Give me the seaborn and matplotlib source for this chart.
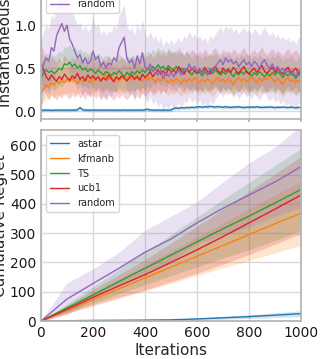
import matplotlib
matplotlib.use("Agg")
import matplotlib.pyplot as plt
import numpy as np
import pandas as pd
import seaborn as sns

ALGOS = ["astar", "kfmanb", "TS", "ucb1", "random"]
COLORS = ["#1f77b4", "#ff7f0e", "#2ca02c", "#d62728", "#9467bd"]

# instantaneous regret, one value every 10 iterations (0..1000)
INST_ITERS = list(range(0, 1001, 10))
inst_astar = [
    0.01, 0.01, 0.012, 0.01, 0.008, 0.01, 0.012, 0.01, 0.01, 0.011, 0.01,
    0.01, 0.012, 0.01, 0.015, 0.04, 0.015, 0.01, 0.012, 0.01, 0.01,
    0.012, 0.01, 0.01, 0.011, 0.01, 0.012, 0.01, 0.01, 0.011, 0.01,
    0.01, 0.012, 0.01, 0.01, 0.011, 0.01, 0.012, 0.01, 0.01, 0.015,
    0.02, 0.012, 0.01, 0.01, 0.012, 0.01, 0.01, 0.011, 0.01, 0.012,
    0.03, 0.035, 0.032, 0.04, 0.036, 0.042, 0.038, 0.045, 0.04, 0.048,
    0.05, 0.044, 0.052, 0.047, 0.055, 0.05, 0.045, 0.052, 0.048, 0.044,
    0.05, 0.046, 0.042, 0.048, 0.045, 0.05, 0.044, 0.04, 0.046, 0.043,
    0.048, 0.044, 0.05, 0.045, 0.041, 0.046, 0.043, 0.048, 0.044, 0.04,
    0.045, 0.042, 0.047, 0.043, 0.04, 0.045, 0.042, 0.038, 0.043, 0.04,
]
inst_kfmanb = [
    0.22, 0.26, 0.30, 0.28, 0.33, 0.30, 0.35, 0.32, 0.36, 0.33, 0.37,
    0.34, 0.38, 0.35, 0.32, 0.37, 0.34, 0.39, 0.36, 0.33, 0.38,
    0.35, 0.40, 0.36, 0.38, 0.42, 0.37, 0.40, 0.36, 0.39, 0.35,
    0.38, 0.41, 0.37, 0.40, 0.36, 0.39, 0.42, 0.38, 0.35, 0.39,
    0.36, 0.40, 0.37, 0.34, 0.38, 0.35, 0.39, 0.36, 0.33, 0.37,
    0.34, 0.38, 0.35, 0.32, 0.37, 0.34, 0.38, 0.35, 0.39, 0.36,
    0.33, 0.37, 0.34, 0.38, 0.35, 0.32, 0.36, 0.39, 0.35, 0.37,
    0.34, 0.38, 0.35, 0.31, 0.36, 0.39, 0.35, 0.38, 0.34, 0.37,
    0.40, 0.36, 0.33, 0.38, 0.35, 0.39, 0.36, 0.42, 0.37, 0.34,
    0.38, 0.35, 0.31, 0.36, 0.39, 0.34, 0.37, 0.33, 0.36, 0.35,
]
inst_ts = [
    0.38, 0.44, 0.48, 0.45, 0.47, 0.44, 0.46, 0.50, 0.48, 0.55, 0.54,
    0.57, 0.52, 0.55, 0.50, 0.53, 0.48, 0.50, 0.46, 0.49, 0.47,
    0.44, 0.48, 0.45, 0.42, 0.46, 0.44, 0.41, 0.45, 0.43, 0.47,
    0.44, 0.40, 0.45, 0.42, 0.46, 0.43, 0.47, 0.44, 0.48, 0.45,
    0.50, 0.47, 0.52, 0.49, 0.54, 0.50, 0.52, 0.48, 0.53, 0.50,
    0.48, 0.52, 0.47, 0.50, 0.45, 0.49, 0.46, 0.42, 0.47, 0.44,
    0.45, 0.41, 0.46, 0.43, 0.47, 0.44, 0.48, 0.45, 0.42, 0.46,
    0.43, 0.47, 0.44, 0.40, 0.45, 0.42, 0.46, 0.43, 0.47, 0.44,
    0.41, 0.45, 0.42, 0.46, 0.43, 0.40, 0.44, 0.41, 0.45, 0.42,
    0.46, 0.43, 0.39, 0.44, 0.41, 0.45, 0.42, 0.38, 0.43, 0.41,
]
inst_ucb1 = [
    0.55, 0.48, 0.40, 0.36, 0.42, 0.38, 0.35, 0.40, 0.37, 0.43, 0.39,
    0.36, 0.41, 0.38, 0.44, 0.37, 0.40, 0.35, 0.42, 0.38, 0.41,
    0.37, 0.40, 0.35, 0.39, 0.36, 0.42, 0.38, 0.34, 0.40, 0.37,
    0.41, 0.38, 0.35, 0.39, 0.42, 0.37, 0.40, 0.36, 0.43, 0.39,
    0.42, 0.46, 0.40, 0.44, 0.48, 0.43, 0.47, 0.42, 0.50, 0.45,
    0.48, 0.44, 0.52, 0.46, 0.43, 0.49, 0.45, 0.50, 0.47, 0.44,
    0.48, 0.45, 0.51, 0.46, 0.43, 0.49, 0.52, 0.47, 0.44, 0.50,
    0.46, 0.49, 0.45, 0.51, 0.47, 0.44, 0.48, 0.52, 0.46, 0.43,
    0.47, 0.50, 0.45, 0.49, 0.53, 0.46, 0.44, 0.48, 0.51, 0.45,
    0.49, 0.46, 0.43, 0.48, 0.51, 0.45, 0.47, 0.50, 0.44, 0.46,
]
inst_random = [
    0.42, 0.55, 0.62, 0.58, 0.74, 0.70, 0.88, 0.95, 1.02, 0.93, 1.00,
    0.84, 0.78, 0.70, 0.62, 0.66, 0.56, 0.62, 0.55, 0.58, 0.70,
    0.60, 0.64, 0.52, 0.57, 0.50, 0.56, 0.54, 0.62, 0.58, 0.74,
    0.80, 0.86, 0.62, 0.56, 0.60, 0.50, 0.64, 0.55, 0.68, 0.52,
    0.48, 0.55, 0.46, 0.50, 0.42, 0.48, 0.38, 0.45, 0.40, 0.46,
    0.40, 0.44, 0.48, 0.42, 0.50, 0.47, 0.55, 0.48, 0.52, 0.46,
    0.50, 0.44, 0.48, 0.42, 0.50, 0.46, 0.52, 0.56, 0.60, 0.54,
    0.62, 0.57, 0.60, 0.55, 0.58, 0.52, 0.56, 0.60, 0.54, 0.57,
    0.52, 0.58, 0.55, 0.50, 0.56, 0.60, 0.53, 0.50, 0.55, 0.48,
    0.52, 0.46, 0.50, 0.44, 0.48, 0.42, 0.46, 0.40, 0.48, 0.45,
]
# half width of the shaded band, instantaneous panel
inst_spread = [0.02, 0.15, 0.20, 0.22, 0.38]

# cumulative regret, read every 100 iterations
CUM_ITERS = [0, 100, 200, 300, 400, 500, 600, 700, 800, 900, 1000]
cum_astar = [0, 1, 2, 2.5, 3, 4, 7, 11, 15, 20, 25]
cum_kfmanb = [0, 36, 73, 110, 147, 184, 221, 258, 295, 332, 368]
cum_ts = [0, 45, 89, 135, 180, 225, 270, 315, 358, 403, 449]
cum_ucb1 = [0, 40, 81, 120, 158, 200, 243, 288, 335, 382, 430]
cum_random = [0, 75, 128, 180, 235, 280, 335, 385, 430, 475, 527]

cum_spread_astar = [0, 1, 1, 1.5, 2, 3, 4, 5, 6, 8, 10]
cum_spread_kfmanb = [0, 11, 22, 33, 44, 55, 66, 77, 88, 99, 110]
cum_spread_ts = [0, 14, 28, 42, 56, 70, 85, 100, 115, 128, 140]
cum_spread_ucb1 = [0, 13, 26, 39, 52, 66, 80, 94, 108, 120, 132]
cum_spread_random = [0, 55, 50, 55, 75, 78, 72, 90, 110, 118, 140]


def build_frame(iters, series, spreads):
    rows = []
    for name, vals, spr in zip(ALGOS, series, spreads):
        spr = np.broadcast_to(np.asarray(spr, dtype=float), (len(vals),))
        for it, v, s in zip(iters, vals, spr):
            rows.append({"iteration": it, "value": v, "lo": v - s, "hi": v + s, "algo": name})
    return pd.DataFrame(rows)


def draw_panel(ax, df):
    palette = dict(zip(ALGOS, COLORS))
    for name in ALGOS:
        d = df[df["algo"] == name]
        ax.fill_between(d["iteration"], d["lo"], d["hi"], color=palette[name],
                        alpha=0.2, linewidth=0)
    sns.lineplot(data=df, x="iteration", y="value", hue="algo", hue_order=ALGOS,
                 palette=palette, linewidth=1.0, ax=ax, errorbar=None)
    ax.legend(loc="upper left", fontsize=7, frameon=True)


sns.set_theme(style="whitegrid")
plt.rcParams.update({
    "font.family": ["DejaVu Sans"],
    "axes.edgecolor": "0.7",
    "grid.color": "0.85",
    "xtick.color": "0.7",
    "ytick.color": "0.7",
    "xtick.labelcolor": "0.1",
    "ytick.labelcolor": "0.1",
    "xtick.major.size": 0,
    "ytick.major.size": 0,
    "xtick.major.pad": 3.5,
    "ytick.major.pad": 3.5,
    "xtick.labelsize": 10,
    "ytick.labelsize": 10,
    "axes.labelsize": 11,
})

fig = plt.figure(figsize=(3.22, 3.59), dpi=100)
ax_top = fig.add_axes([0.1273, 0.6685, 0.8075, 0.5237])
ax_bot = fig.add_axes([0.1273, 0.1058, 0.8075, 0.5320])

inst_df = build_frame(INST_ITERS, [inst_astar, inst_kfmanb, inst_ts, inst_ucb1, inst_random], inst_spread)
cum_df = build_frame(CUM_ITERS, [cum_astar, cum_kfmanb, cum_ts, cum_ucb1, cum_random],
                     [cum_spread_astar, cum_spread_kfmanb, cum_spread_ts, cum_spread_ucb1, cum_spread_random])

draw_panel(ax_top, inst_df)
ax_top.set_xlim(0, 1000)
ax_top.set_ylim(-0.093, 2.1)
ax_top.set_xticks([0, 200, 400, 600, 800, 1000])
ax_top.set_xticklabels([])
ax_top.tick_params(axis="x", bottom=True, length=2.5)
ax_top.set_yticks([0.0, 0.5, 1.0, 1.5, 2.0])
ax_top.set_xlabel("")
ax_top.set_ylabel("Instantaneous Regret", labelpad=1)

draw_panel(ax_bot, cum_df)
ax_bot.set_xlim(0, 1000)
ax_bot.set_ylim(0, 652)
ax_bot.set_xticks([0, 200, 400, 600, 800, 1000])
ax_bot.set_yticks([0, 100, 200, 300, 400, 500, 600])
ax_bot.set_xlabel("Iterations", labelpad=2)
ax_bot.set_ylabel("Cumulative Regret", labelpad=1)

fig.savefig("out.png", dpi=100)
